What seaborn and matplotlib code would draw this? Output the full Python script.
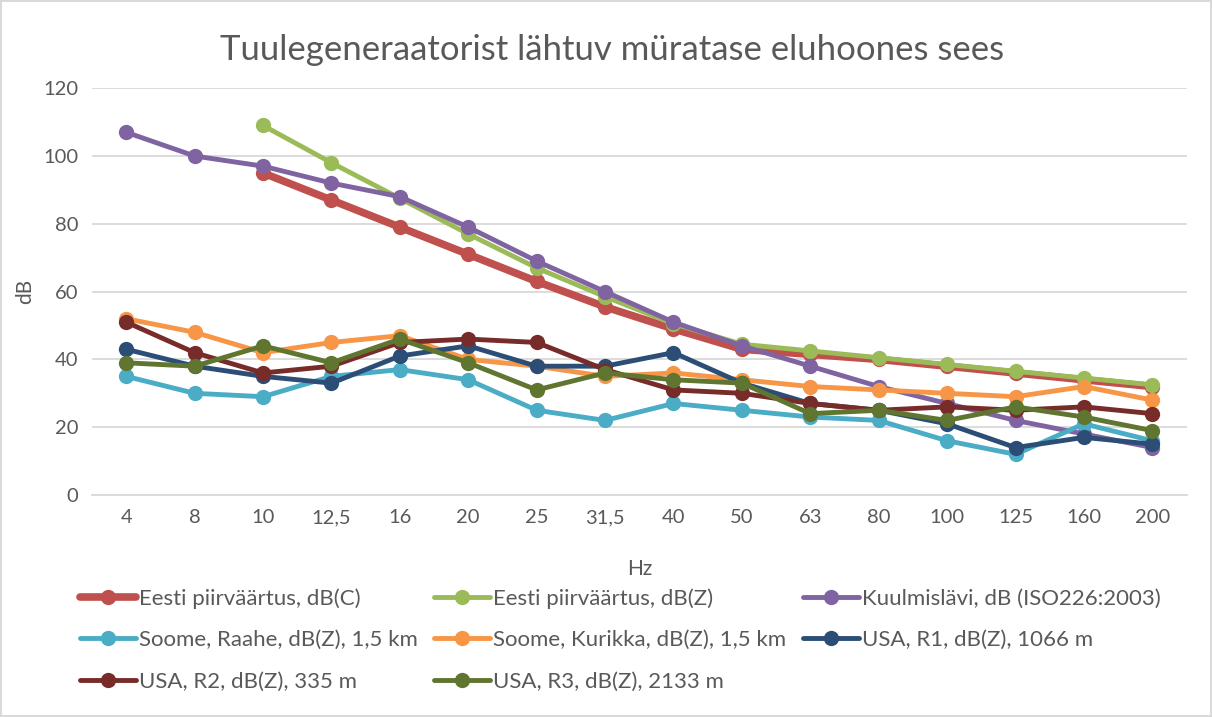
import numpy as np
import pandas as pd
import matplotlib
matplotlib.use("Agg")
import matplotlib.pyplot as plt
import seaborn as sns

# Chart values
freqs = ["4", "8", "10", "12,5", "16", "20", "25", "31,5", "40", "50",
         "63", "80", "100", "125", "160", "200"]
nan = np.nan
eesti_c = [nan, nan, 95, 87, 79, 71, 63, 55.5, 49, 43, 41.5, 40, 38, 36, 34, 32]
eesti_z = [nan, nan, 109, 98, 87.5, 77, 67, 58.5, 50.5, 44.5, 42.5, 40.5, 38.5, 36.5, 34.5, 32.5]
kuulmis = [107, 100, 97, 92, 88, 79, 69, 60, 51, 44, 38, 32, 27, 22, 18, 14]
raahe = [35, 30, 29, 35, 37, 34, 25, 22, 27, 25, 23, 22, 16, 12, 21, 16]
kurikka = [52, 48, 42, 45, 47, 40, 38, 35, 36, 34, 32, 31, 30, 29, 32, 28]
usa_r1 = [43, 38, 35, 33, 41, 44, 38, 38, 42, 33, 27, 25, 21, 14, 17, 15]
usa_r2 = [51, 42, 36, 38, 45, 46, 45, 37, 31, 30, 27, 25, 26, 25, 26, 24]
usa_r3 = [39, 38, 44, 39, 46, 39, 31, 36, 34, 33, 24, 25, 22, 26, 23, 19]

series_names = ["Eesti piirväärtus, dB(C)", "Eesti piirväärtus, dB(Z)",
                "Kuulmislävi, dB (ISO226:2003)", "Soome, Raahe, dB(Z), 1,5 km",
                "Soome, Kurikka, dB(Z), 1,5 km", "USA, R1, dB(Z), 1066 m",
                "USA, R2, dB(Z), 335 m", "USA, R3, dB(Z), 2133 m"]
series_values = [eesti_c, eesti_z, kuulmis, raahe, kurikka, usa_r1, usa_r2, usa_r3]
colors = ["#C0504D", "#9BBB59", "#8064A2", "#4BACC6",
          "#F79646", "#2C4D75", "#772C2A", "#5F7530"]
widths = [5.5, 3.5, 3.5, 3.5, 3.5, 3.5, 3.5, 3.5]

sns.set_style("white")
plt.rcParams['font.family'] = ['Lato', 'DejaVu Sans']

fig = plt.figure(figsize=(12.12, 7.17), dpi=100)
ax = fig.add_axes([0.0759, 0.3096, 0.9031, 0.5674])

pos = np.arange(len(freqs))
for name, vals, col, lw in zip(series_names, series_values, colors, widths):
    d = pd.DataFrame({"x": pos, "dB": vals}).dropna()
    sns.lineplot(data=d, x="x", y="dB", ax=ax, color=col, linewidth=lw,
                 marker="o", markersize=11, markeredgewidth=0, label=name)

ax.set_xlim(-0.5, len(freqs) - 0.5)
ax.set_ylim(0, 120)
ax.set_yticks(range(0, 121, 20))
ax.set_xticks(pos)
ax.set_xticklabels(freqs)
ax.tick_params(axis="both", labelsize=14.5, colors="#595959", length=0, pad=10)
ax.grid(axis="y", color="#D9D9D9", linewidth=1.3)
ax.set_axisbelow(True)
for s in ["left", "right", "top"]:
    ax.spines[s].set_visible(False)
ax.spines["bottom"].set_color("#D9D9D9")
ax.spines["bottom"].set_linewidth(1.3)

ax.set_xlabel("Hz", fontsize=15, color="#595959", labelpad=24)
ax.set_ylabel("dB", fontsize=15, color="#595959", labelpad=6)
fig.text(0.505, 1 - 50 / 717, "Tuulegeneraatorist lähtuv müratase eluhoones sees",
         fontsize=25, color="#595959", ha="center", va="center")

# legend laid out row-wise like the original (3 columns)
h, l = ax.get_legend_handles_labels()
ax.get_legend().remove()
order = [0, 3, 6, 1, 4, 7, 2, 5]
fig.legend([h[i] for i in order], [l[i] for i in order], ncol=3,
           loc="upper left", bbox_to_anchor=(80 / 1212, 1 - 588 / 717),
           frameon=False, fontsize=16, labelcolor="#595959", handlelength=2.5,
           handletextpad=0.15, columnspacing=0.75, labelspacing=0.97,
           borderaxespad=0, borderpad=0)

fig.patch.set_edgecolor("#D9D9D9")
fig.patch.set_linewidth(1.5)
fig.savefig("out.png", dpi=100, edgecolor=fig.get_edgecolor())
